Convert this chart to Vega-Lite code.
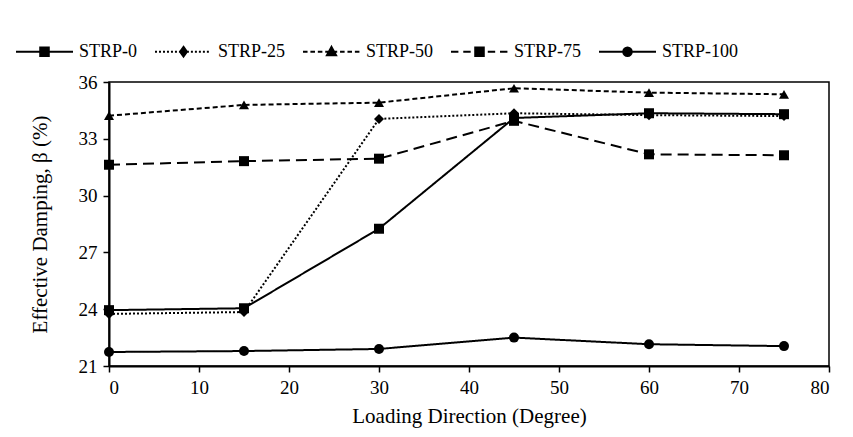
{
  "$schema": "https://vega.github.io/schema/vega-lite/v6.json",
  "width": 720,
  "height": 284,
  "autosize": {"type": "none"},
  "padding": {"left": 109, "top": 82, "right": 24, "bottom": 71},
  "background": "white",
  "config": {
    "view": {"stroke": "black", "strokeWidth": 1.5},
    "font": "Liberation Serif",
    "axis": {
      "labelFont": "Liberation Serif",
      "titleFont": "Liberation Serif",
      "labelColor": "black",
      "titleColor": "black",
      "labelFontSize": 19,
      "titleFontSize": 21,
      "titleFontWeight": "normal",
      "domainColor": "black",
      "domainWidth": 2,
      "tickColor": "black",
      "tickWidth": 1.5,
      "tickSize": 6,
      "grid": false
    }
  },
  "data": {
    "values": [
      {"series": "STRP-0", "dir": 0, "beta": 23.95},
      {"series": "STRP-0", "dir": 15, "beta": 24.05},
      {"series": "STRP-0", "dir": 30, "beta": 28.25},
      {"series": "STRP-0", "dir": 45, "beta": 34.1},
      {"series": "STRP-0", "dir": 60, "beta": 34.35},
      {"series": "STRP-0", "dir": 75, "beta": 34.3},
      {"series": "STRP-25", "dir": 0, "beta": 23.75},
      {"series": "STRP-25", "dir": 15, "beta": 23.85},
      {"series": "STRP-25", "dir": 30, "beta": 34.05},
      {"series": "STRP-25", "dir": 45, "beta": 34.35},
      {"series": "STRP-25", "dir": 60, "beta": 34.25},
      {"series": "STRP-25", "dir": 75, "beta": 34.2},
      {"series": "STRP-50", "dir": 0, "beta": 34.22},
      {"series": "STRP-50", "dir": 15, "beta": 34.79},
      {"series": "STRP-50", "dir": 30, "beta": 34.91},
      {"series": "STRP-50", "dir": 45, "beta": 35.67},
      {"series": "STRP-50", "dir": 60, "beta": 35.44},
      {"series": "STRP-50", "dir": 75, "beta": 35.35},
      {"series": "STRP-75", "dir": 0, "beta": 31.63},
      {"series": "STRP-75", "dir": 15, "beta": 31.82},
      {"series": "STRP-75", "dir": 30, "beta": 31.95},
      {"series": "STRP-75", "dir": 45, "beta": 33.95},
      {"series": "STRP-75", "dir": 60, "beta": 32.18},
      {"series": "STRP-75", "dir": 75, "beta": 32.13},
      {"series": "STRP-100", "dir": 0, "beta": 21.74},
      {"series": "STRP-100", "dir": 15, "beta": 21.79},
      {"series": "STRP-100", "dir": 30, "beta": 21.9},
      {"series": "STRP-100", "dir": 45, "beta": 22.5},
      {"series": "STRP-100", "dir": 60, "beta": 22.15},
      {"series": "STRP-100", "dir": 75, "beta": 22.05}
    ]
  },
  "encoding": {
    "x": {
      "field": "dir", "type": "quantitative",
      "scale": {"domain": [0, 80], "nice": false, "zero": false},
      "axis": {"values": [0, 10, 20, 30, 40, 50, 60, 70, 80], "title": "Loading Direction (Degree)", "titlePadding": 8, "labelPadding": 6}
    },
    "y": {
      "field": "beta", "type": "quantitative",
      "scale": {"domain": [21, 36], "nice": false, "zero": false},
      "axis": {"values": [21, 24, 27, 30, 33, 36], "title": "Effective Damping, β (%)", "titlePadding": 28, "labelPadding": 6}
    }
  },
  "layer": [
    {
      "mark": {"type": "line", "color": "black", "strokeWidth": 2},
      "encoding": {
        "detail": {"field": "series"},
        "strokeDash": {
          "field": "series", "type": "nominal",
          "scale": {"domain": ["STRP-0", "STRP-25", "STRP-50", "STRP-75", "STRP-100"], "range": [[1, 0], [2, 2], [5, 3], [11, 6], [1, 0]]},
          "legend": null
        }
      }
    },
    {
      "mark": {"type": "point", "filled": true, "color": "black", "opacity": 1, "size": 100},
      "encoding": {
        "shape": {
          "field": "series", "type": "nominal",
          "scale": {"domain": ["STRP-0", "STRP-25", "STRP-50", "STRP-75", "STRP-100"], "range": ["square", "diamond", "triangle-up", "square", "circle"]},
          "legend": null
        }
      }
    },
    {
      "mark": {"type": "point", "filled": false, "color": "black", "opacity": 0, "size": 10, "strokeWidth": 2},
      "encoding": {
        "shape": {
          "field": "series", "type": "nominal",
          "scale": {"domain": ["STRP-0", "STRP-25", "STRP-50", "STRP-75", "STRP-100"], "range": [
            "M-1,0H1M-0.15,-0.15H0.15V0.15H-0.15ZM-0.095,-0.095H0.095V0.095H-0.095ZM-0.04,-0.04H0.04V0.04H-0.04Z",
            "M-1,0h0.07m0.07,0h0.07m0.07,0h0.07m0.07,0h0.07m0.07,0h0.07m0.07,0h0.07m0.07,0h0.07m0.07,0h0.07m0.07,0h0.07m0.07,0h0.07m0.07,0h0.07m0.07,0h0.07m0.07,0h0.07m0.07,0h0.07M0,-0.17L0.12,0L0,0.17L-0.12,0ZM0,-0.1L0.07,0L0,0.1L-0.07,0ZM0,-0.035L0.025,0L0,0.035L-0.025,0Z",
            "M-1,0h0.16m0.1,0h0.16m0.1,0h0.16m0.1,0h0.16m0.1,0h0.16m0.1,0h0.16m0.1,0h0.16m0.1,0h0.16M0,-0.17L0.16,0.12L-0.16,0.12ZM0,-0.093L0.096,0.081L-0.096,0.081ZM0,-0.025L0.04,0.047L-0.04,0.047Z",
            "M-1,0h0.26m0.17,0h0.26m0.17,0h0.26m0.17,0h0.26m0.17,0h0.26M-0.15,-0.15H0.15V0.15H-0.15ZM-0.095,-0.095H0.095V0.095H-0.095ZM-0.04,-0.04H0.04V0.04H-0.04Z",
            "M-1,0H1M0.15,0A0.15,0.15,0,1,1,-0.15,0A0.15,0.15,0,1,1,0.15,0ZM0.09,0A0.09,0.09,0,1,1,-0.09,0A0.09,0.09,0,1,1,0.09,0ZM0.035,0A0.035,0.035,0,1,1,-0.035,0A0.035,0.035,0,1,1,0.035,0Z"
          ]},
          "legend": {
            "title": null,
            "orient": "none",
            "legendX": -94,
            "legendY": -60,
            "direction": "horizontal",
            "padding": 0,
            "symbolSize": 3249,
            "symbolOpacity": 1,
            "symbolStrokeColor": "black",
            "symbolStrokeWidth": 2,
            "labelFont": "Liberation Serif",
            "labelFontSize": 18,
            "labelColor": "black",
            "labelOffset": 5,
            "columnPadding": 13,
            "labelLimit": 200
          }
        }
      }
    }
  ],
  "resolve": {"scale": {"shape": "independent"}, "legend": {"shape": "independent"}}
}
